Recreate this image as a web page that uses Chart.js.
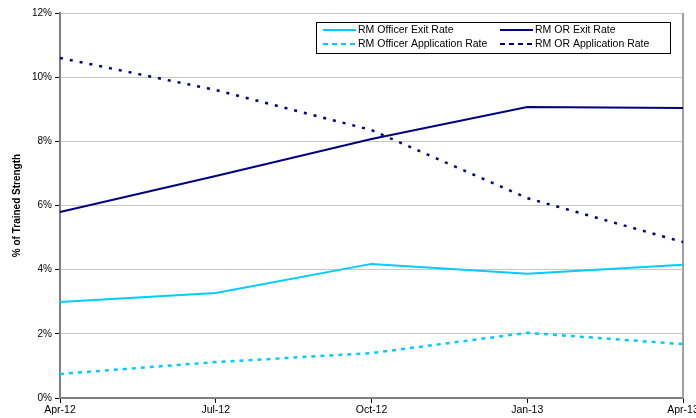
<!DOCTYPE html>
<html>
<head>
<meta charset="utf-8">
<script src="https://cdn.jsdelivr.net/npm/chart.js@4/dist/chart.umd.min.js"></script>
<style>
  html, body { margin: 0; padding: 0; background: #fff; overflow: hidden; }
  canvas { display: block; }
</style>
</head>
<body>
<canvas id="rateChart" width="702" height="418"></canvas>
<script>
// data
const months = ['Apr-12', 'Jul-12', 'Oct-12', 'Jan-13', 'Apr-13'];
const officerExit = [2.99, 3.27, 4.18, 3.87, 4.15];
const orExit = [5.80, 6.92, 8.07, 9.07, 9.04];
const officerApplication = [0.75, 1.12, 1.40, 2.03, 1.68];
const orApplication = [10.60, 9.60, 8.35, 6.23, 4.86];
const yTicks = [0, 2, 4, 6, 8, 10, 12];

const lightBlue = '#00ccff';
const navy = '#000080';
const fontFamily = '"Liberation Sans", Arial, sans-serif';

// legend drawn inside the plot, two columns like the original
const boxLegend = {
    id: 'boxLegend',
    afterDraw(chart) {
        const c = chart.ctx;
        const x0 = 316, y0 = 22, w = 354, h = 31;
        c.save();
        c.fillStyle = '#fff';
        c.fillRect(x0, y0, w, h);
        c.strokeStyle = '#000';
        c.lineWidth = 1;
        c.strokeRect(x0 + 0.5, y0 + 0.5, w, h);
        c.font = '10.5px ' + fontFamily;
        c.textBaseline = 'middle';
        chart.data.datasets.forEach((ds, i) => {
            const lx = x0 + 7 + (i % 2) * 177;
            const ly = y0 + 8 + Math.floor(i / 2) * 14;
            c.beginPath();
            c.strokeStyle = ds.borderColor;
            c.lineWidth = 2;
            c.setLineDash(ds.borderDash && ds.borderDash.length ? [5, 4] : []);
            c.moveTo(lx, ly);
            c.lineTo(lx + 33, ly);
            c.stroke();
            c.setLineDash([]);
            c.fillStyle = '#000';
            c.fillText(ds.label, lx + 35, ly);
        });
        c.restore();
    }
};

// right edge of the plot area
const plotFrame = {
    id: 'plotFrame',
    beforeDatasetsDraw(chart) {
        const a = chart.chartArea, c = chart.ctx;
        c.save();
        c.strokeStyle = '#a0a0a0';
        c.lineWidth = 2;
        c.beginPath();
        c.moveTo(a.right, a.top);
        c.lineTo(a.right, a.bottom);
        c.stroke();
        c.restore();
    }
};

new Chart(document.getElementById('rateChart'), {
    type: 'line',
    data: {
        labels: months,
        datasets: [
            { label: 'RM Officer Exit Rate', data: officerExit, borderColor: lightBlue, borderWidth: 2 },
            { label: 'RM OR Exit Rate', data: orExit, borderColor: navy, borderWidth: 2 },
            { label: 'RM Officer Application Rate', data: officerApplication, borderColor: lightBlue, borderWidth: 2.5, borderDash: [4, 5] },
            { label: 'RM OR Application Rate', data: orApplication, borderColor: navy, borderWidth: 2.5, borderDash: [3, 7] }
        ]
    },
    options: {
        responsive: false,
        animation: false,
        devicePixelRatio: 1,
        layout: { padding: { top: 13, right: 19, left: 0, bottom: 0 } },
        elements: {
            point: { radius: 0 },
            line: { tension: 0, fill: false }
        },
        plugins: {
            legend: { display: false },
            tooltip: { enabled: false }
        },
        scales: {
            x: {
                offset: false,
                grid: { drawOnChartArea: false, drawTicks: true, tickLength: 5, tickColor: '#000' },
                border: { color: '#808080', width: 2 },
                ticks: { color: '#000', font: { family: fontFamily, size: 10.5 }, maxRotation: 0, autoSkip: false, padding: 1 },
                afterFit(scale) { scale.height = 20; }
            },
            y: {
                min: 0,
                max: 12,
                afterBuildTicks(scale) { scale.ticks = yTicks.map(v => ({ value: v })); },
                grid: { color: '#c8c8c8', lineWidth: 1, tickLength: 5, tickColor: '#000' },
                border: { color: '#808080', width: 2 },
                ticks: {
                    color: '#000',
                    font: { family: fontFamily, size: 10 },
                    padding: 3,
                    callback: v => v + '%'
                },
                title: {
                    display: true,
                    text: '% of Trained Strength',
                    color: '#000',
                    font: { family: fontFamily, size: 10, weight: 'bold' },
                    padding: { top: 11, bottom: 0 }
                },
                afterFit(scale) { scale.width = 60; }
            }
        }
    },
    plugins: [plotFrame, boxLegend]
});
</script>
</body>
</html>
